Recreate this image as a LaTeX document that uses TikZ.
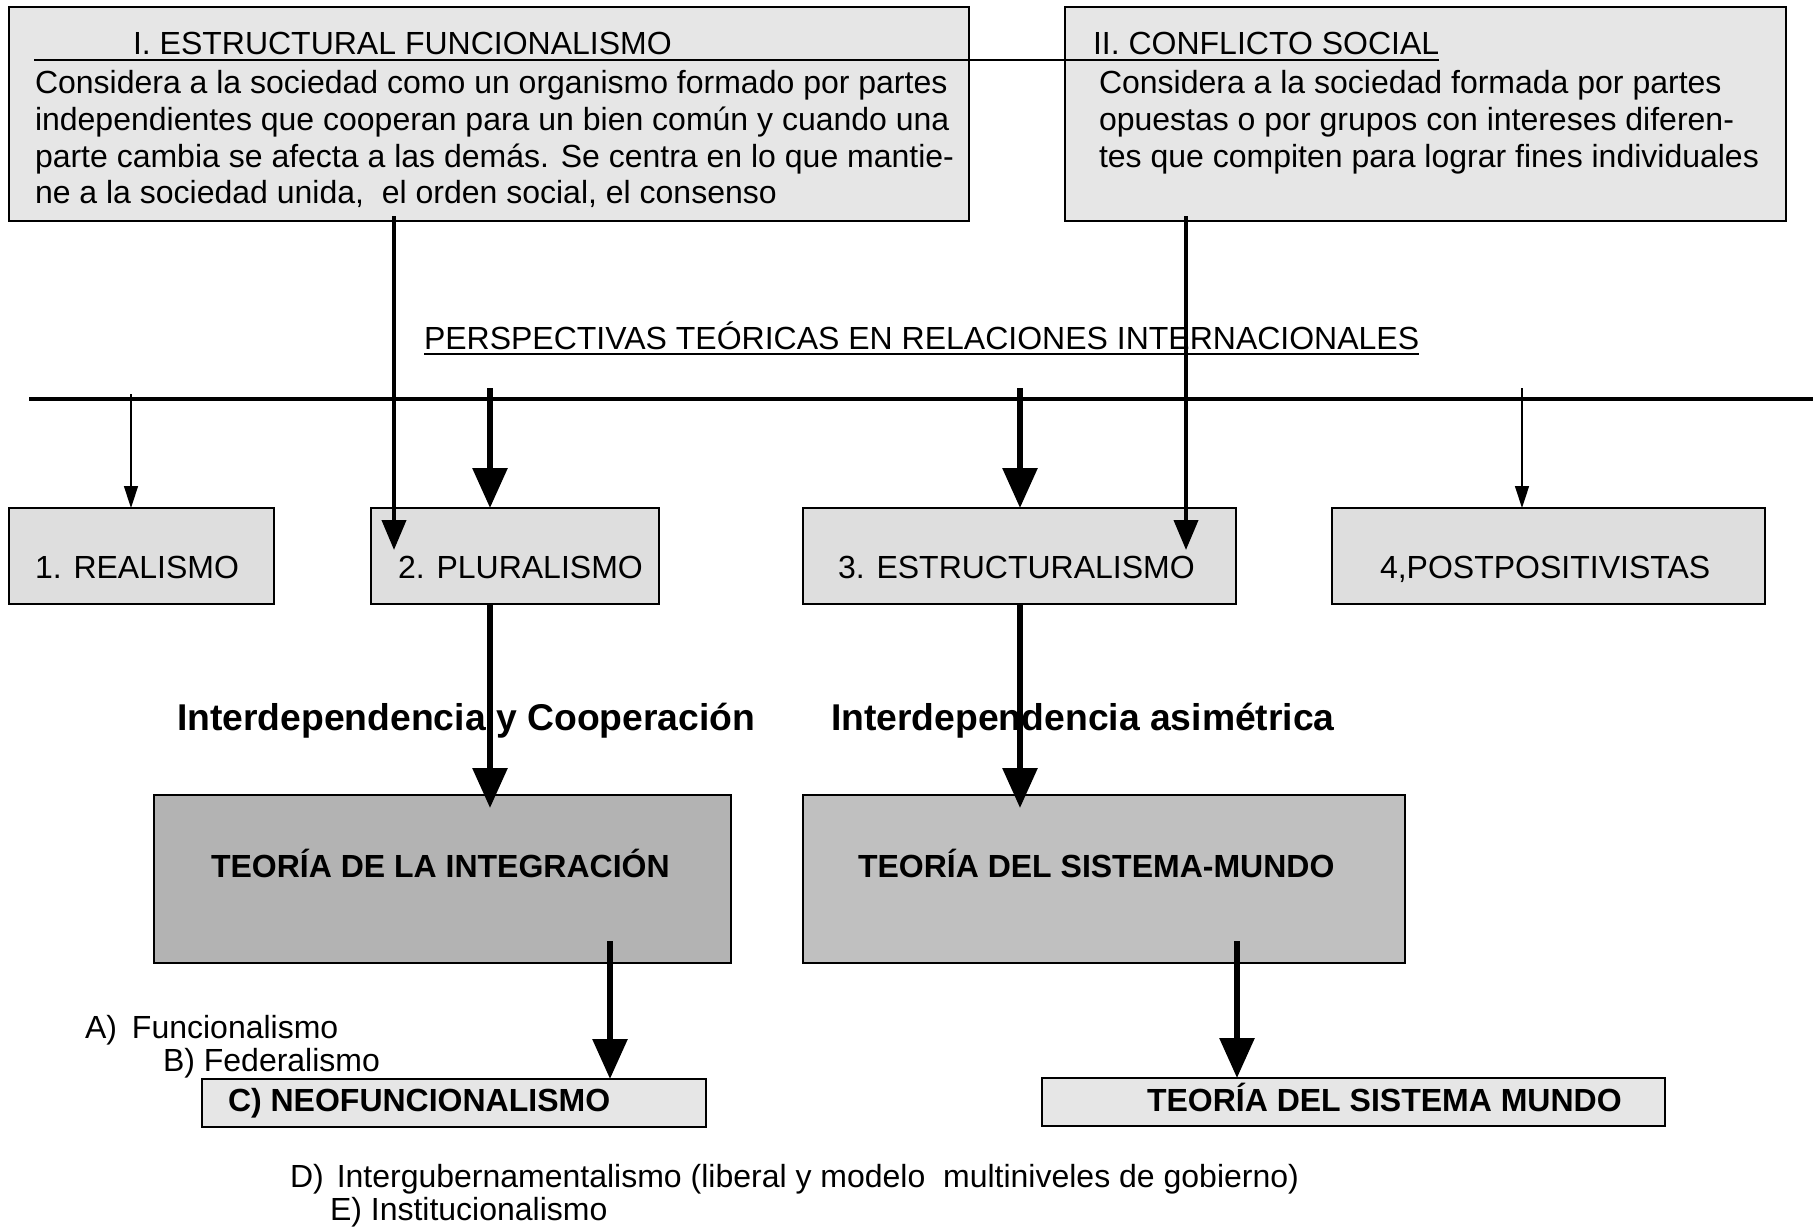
\documentclass[tikz,border=0pt]{standalone}
\usepackage{fontspec}
\setmainfont{Liberation Sans}
\usetikzlibrary{arrows.meta}
\definecolor{boxA}{HTML}{E6E6E6}
\definecolor{boxB}{HTML}{DEDEDE}
\definecolor{boxC}{HTML}{B3B3B3}
\definecolor{boxD}{HTML}{C0C0C0}
\begin{document}
\begin{tikzpicture}[x=1pt,y=-1pt,
  box/.style={draw=black, line width=1.6pt, inner sep=0pt, outer sep=0pt, anchor=north west},
  txt/.style={anchor=base west, inner sep=0pt, outer sep=0pt, font=\fontsize{32}{36.6}\selectfont},
  btxt/.style={anchor=base west, inner sep=0pt, outer sep=0pt, font=\fontsize{32}{36.6}\selectfont\bfseries},
  ltxt/.style={anchor=base west, inner sep=0pt, outer sep=0pt, font=\fontsize{37.3}{42}\selectfont\bfseries},
  thinarrow/.style={line width=1.5pt, -{Triangle[length=22pt,width=14pt]}},
  medarrow/.style={line width=4pt, -{Triangle[length=30pt,width=24pt]}},
  thickarrow/.style={line width=6pt, -{Triangle[length=40pt,width=34pt]}},
]
\useasboundingbox[fill=white] (0,0) rectangle (1816,1228);

% ---- boxes ----
\node[box, fill=boxA, minimum width=960pt, minimum height=214pt] (boxI) at (9,7) {};
\node[box, fill=boxA, minimum width=721pt, minimum height=214pt] (boxII) at (1065,7) {};
\node[box, fill=boxB, minimum width=265pt, minimum height=96pt] (real) at (9,508) {};
\node[box, fill=boxB, minimum width=288pt, minimum height=96pt] (plur) at (371,508) {};
\node[box, fill=boxB, minimum width=433pt, minimum height=96pt] (estr) at (803,508) {};
\node[box, fill=boxB, minimum width=433pt, minimum height=96pt] (post) at (1332,508) {};
\node[box, fill=boxC, minimum width=577pt, minimum height=168pt] (integ) at (154,795) {};
\node[box, fill=boxD, minimum width=602pt, minimum height=168pt] (sismu) at (803,795) {};
\node[box, fill=boxA, minimum width=504pt, minimum height=48pt] (neo) at (202,1079) {};
\node[box, fill=boxA, minimum width=623pt, minimum height=48pt] (tsm) at (1042,1078) {};

% ---- texts in top boxes ----
\node[txt] (t1) at (133,55) {I. ESTRUCTURAL FUNCIONALISMO};
\node[txt] (b1a) at (35,94) {Considera a la sociedad como un organismo formado por partes};
\node[txt] (b1b) at (35,130.6) {independientes que cooperan para un bien común y cuando una};
\node[txt] (b1c) at (35,167.2) {parte cambia se afecta a las demás. Se centra en lo que mantie-};
\node[txt] (b1d) at (35,203.8) {ne a la sociedad unida,\ \ el orden social, el consenso};
\node[txt] (t2) at (1093,55) {II. CONFLICTO SOCIAL};
\node[txt] (b2a) at (1099,94) {Considera a la sociedad formada por partes};
\node[txt] (b2b) at (1099,130.6) {opuestas o por grupos con intereses diferen-};
\node[txt] (b2c) at (1099,167.2) {tes que compiten para lograr fines individuales};
\coordinate (ul0) at (34,60);
\draw[line width=2.5pt] (ul0) -- (t2.east |- ul0);

% ---- heading ----
\node[txt] (head) at (424,349) {PERSPECTIVAS TEÓRICAS EN RELACIONES INTERNACIONALES};
\coordinate (hu) at (0,354);
\draw[line width=2.5pt] (head.west |- hu) -- (head.east |- hu);

% ---- row 2 texts ----
\node[txt] (lreal) at (35,578) {1. REALISMO};
\node[txt] (lplur) at (398,578) {2. PLURALISMO};
\node[txt] (lestr) at (838,578) {3. ESTRUCTURALISMO};
\node[txt] (lpost) at (1380,578) {4,POSTPOSITIVISTAS};

% ---- labels ----
\node[ltxt] (lab1) at (177,730) {Interdependencia y Cooperación};
\node[ltxt] (lab2) at (831,730) {Interdependencia asimétrica};
\node[btxt] (linteg) at (211,877) {TEORÍA DE LA INTEGRACIÓN};
\node[btxt] (lsismu) at (858,877) {TEORÍA DEL SISTEMA-MUNDO};
\node[btxt] (lneo) at (228,1111) {C) NEOFUNCIONALISMO};
\node[btxt] (ltsm) at (1147,1111) {TEORÍA DEL SISTEMA MUNDO};

% ---- lists ----
\node[txt] (la) at (85,1038) {A)\hspace{15pt}Funcionalismo};
\node[txt] (lb) at (163,1071) {B) Federalismo};
\node[txt] (ld) at (290,1187) {D)\hspace{13pt}Intergubernamentalismo (liberal y modelo\ \ multiniveles de gobierno)};
\node[txt] (le) at (330,1220) {E) Institucionalismo};

% ---- horizontal bar ----
\coordinate (barL) at (29,399);
\coordinate (barR) at (1813,399);
\draw[line width=4pt] (barL) -- (barR);

% ---- arrows ----
\coordinate (s1) at (131,394);
\coordinate (s2) at (490,388);
\coordinate (s3) at (1020,388);
\coordinate (s4) at (1522,388);
\draw[thinarrow] (s1) -- (s1 |- real.north);
\draw[thickarrow] (s2) -- (s2 |- plur.north);
\draw[thickarrow] (s3) -- (s3 |- estr.north);
\draw[thinarrow] (s4) -- (s4 |- post.north);

\coordinate (e1) at (394,550);
\coordinate (e2) at (1186,550);
\draw[medarrow] (e1 |- boxI.south) ++(0,-5) -- (e1);
\draw[medarrow] (e2 |- boxII.south) ++(0,-5) -- (e2);

\coordinate (e3) at (490,808);
\coordinate (e4) at (1020,808);
\draw[thickarrow] (e3 |- plur.south) -- (e3);
\draw[thickarrow] (e4 |- estr.south) -- (e4);

\coordinate (f1) at (610,941);
\coordinate (f2) at (1237,941);
\draw[thickarrow] (f1) -- (f1 |- neo.north);
\draw[thickarrow] (f2) -- (f2 |- tsm.north);
\end{tikzpicture}
\end{document}
